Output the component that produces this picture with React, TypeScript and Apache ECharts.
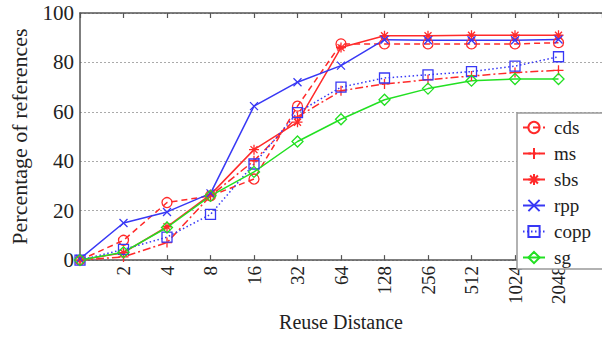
import React, { useEffect, useRef } from "react";
import * as echarts from "echarts";

const distanceLabels = ["", "2", "4", "8", "16", "32", "64", "128", "256", "512", "1024", "2048"];
const yTicks = [0, 20, 40, 60, 80, 100];

const cds = [0, 8, 23.3, 26, 32.8, 62.3, 87.5, 87.5, 87.5, 87.5, 87.5, 88];
const ms = [0, 1.3, 7.1, 26, 40.2, 58, 68.5, 71.3, 73, 74.5, 75.9, 76.8];
const sbs = [0, 3, 13.5, 26.5, 44.7, 55.8, 86, 90.8, 90.8, 91, 91, 91];
const rpp = [0.5, 15, 19.5, 27, 62.3, 72, 78.7, 89.2, 89, 89, 89, 89.3];
const copp = [0, 4.3, 9.3, 18.5, 38.9, 59.7, 70, 73.7, 75, 76.3, 78.5, 82.3];
const sg = [0, 3.2, 13.2, 26, 35.7, 48, 57, 64.9, 69.4, 72.6, 73.3, 73.3];

const RED = "#ff2a2a";
const BLUE = "#3838f5";
const GREEN = "#22e022";
const FONT = "Times New Roman, Liberation Serif, serif";

const PLUS = "path://M5,0L5,10M0,5L10,5";
const STAR = "path://M5,0L5,10M0,5L10,5M1.5,1.5L8.5,8.5M8.5,1.5L1.5,8.5";
const CROSS = "path://M0,0L10,10M10,0L0,10";

function mk(name: string, values: number[], color: string, type: any, symbol: string, size: number) {
  return {
    name,
    type: "line",
    data: values.map((v, i) => [i, v]),
    symbol,
    symbolSize: size,
    showSymbol: true,
    lineStyle: { color, width: 1.5, type },
    itemStyle: { color: "transparent", borderColor: color, borderWidth: 1.3 },
    emphasis: { disabled: true },
  };
}

export default function App() {
  const ref = useRef<HTMLDivElement>(null);
  useEffect(() => {
    if (!ref.current) return;
    const chart = echarts.init(ref.current, null, { renderer: "svg" });
    const axisLine = { show: true, lineStyle: { color: "#555", width: 1.5 } };
    chart.setOption({
      animation: false,
      backgroundColor: "#fff",
      textStyle: { fontFamily: FONT },
      grid: { left: 78, top: 13, right: -4, bottom: 67, containLabel: false },
      xAxis: [
        {
          type: "value",
          position: "bottom",
          min: 0,
          max: distanceLabels.length,
          interval: 1,
          axisLine: { ...axisLine, onZero: false },
          axisTick: { show: true, inside: true, length: 5, lineStyle: { color: "#555", width: 1.2 } },
          axisLabel: {
            rotate: 90,
            margin: 6,
            fontFamily: FONT,
            fontSize: 19,
            color: "#222",
            formatter: (v: number) => distanceLabels[v] ?? "",
          },
          splitLine: { show: false },
          name: "Reuse Distance",
          nameLocation: "middle",
          nameGap: 41,
          nameTextStyle: { fontFamily: FONT, fontSize: 20, color: "#222" },
        },
        {
          type: "value",
          position: "top",
          min: 0,
          max: distanceLabels.length,
          interval: 1,
          axisLine: { ...axisLine, onZero: false },
          axisTick: { show: true, inside: true, length: 5, lineStyle: { color: "#555", width: 1.2 } },
          axisLabel: { show: false },
          splitLine: { show: false },
        },
      ],
      yAxis: {
        type: "value",
        min: yTicks[0],
        max: yTicks[yTicks.length - 1],
        interval: 20,
        axisLine,
        axisTick: { show: false },
        axisLabel: { margin: 6, fontFamily: FONT, fontSize: 21, color: "#222" },
        splitLine: { show: true, lineStyle: { color: "#aaa", type: [2, 2], width: 1 } },
        name: "Percentage of references",
        nameLocation: "middle",
        nameGap: 50,
        nameTextStyle: { fontFamily: FONT, fontSize: 22, color: "#222" },
      },
      legend: {
        orient: "vertical",
        left: 517,
        top: 113,
        padding: [5, 60, 2, 5],
        itemWidth: 22,
        itemHeight: 14,
        itemGap: 7,
        backgroundColor: "#fff",
        borderColor: "#999",
        borderWidth: 1.5,
        textStyle: { fontFamily: FONT, fontSize: 19, color: "#222", padding: [0, 0, 0, 4] },
        data: ["cds", "ms", "sbs", "rpp", "copp", "sg"],
      },
      series: [
        mk("cds", cds, RED, [6, 4], "circle", 10),
        mk("ms", ms, RED, [8, 3, 2, 3], PLUS, 10),
        mk("sbs", sbs, RED, "solid", STAR, 10),
        mk("rpp", rpp, BLUE, "solid", CROSS, 8),
        mk("copp", copp, BLUE, [1.5, 2.5], "rect", 10),
        mk("sg", sg, GREEN, "solid", "diamond", 11),
      ],
    });
    return () => chart.dispose();
  }, []);
  return <div ref={ref} style={{ width: 602, height: 337, position: "absolute", left: 0, top: 0 }} />;
}
